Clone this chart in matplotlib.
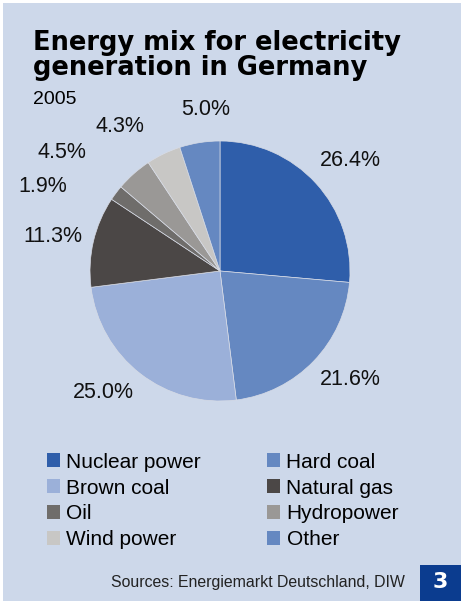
import numpy as np
import matplotlib.pyplot as plt
from matplotlib.patches import Rectangle

sources = ['Nuclear power', 'Hard coal', 'Brown coal', 'Natural gas',
           'Oil', 'Hydropower', 'Wind power', 'Other']
shares = [26.4, 21.6, 25.0, 11.3, 1.9, 4.5, 4.3, 5.0]
colors = ['#2f5eaa', '#6588c1', '#9bb0d9', '#4b4746',
          '#6f6d6b', '#9a9896', '#c8c7c5', '#6588c1']
# label placement: distance (pie radii) and angle nudge (deg) from wedge middle
label_r = [1.315, 1.305, 1.30, 1.31, 1.51, 1.52, 1.355, 1.245]
label_da = [-2, 4, -6, 1.6, 11.5, 11.4, 9, -4]

bg = '#cdd8ea'
W, H = 461, 601
fig = plt.figure(figsize=(W / 100, H / 100), dpi=100)
fig.patch.set_facecolor('white')
fig.patches.append(Rectangle((3 / W, 0), 1, 1 - 3 / H, transform=fig.transFigure,
                             facecolor=bg, edgecolor='none', zorder=-10))

cx, cy, rad = 220, 271, 130
ax = fig.add_axes([(cx - rad) / W, 1 - (cy + rad) / H, 2 * rad / W, 2 * rad / H])
ax.set_facecolor('none')
wedges, _ = ax.pie(shares, colors=colors, startangle=90, counterclock=False,
                   wedgeprops=dict(edgecolor='#d8dce6', linewidth=0.5))
ax.set_xlim(-1, 1)
ax.set_ylim(-1, 1)
ax.set_aspect('equal')
ax.axis('off')

for w, val, r, da in zip(wedges, shares, label_r, label_da):
    ang = np.deg2rad((w.theta1 + w.theta2) / 2 + da)
    ax.text(r * np.cos(ang), r * np.sin(ang), f'{val:.1f}%', ha='center', va='center',
            fontsize=15.5, family='Liberation Sans', color='#111111')

fig.text(33 / W, 1 - 43 / H, 'Energy mix for electricity', fontsize=18.5,
         fontweight='heavy', family='DejaVu Sans', va='center', ha='left')
fig.text(33 / W, 1 - 68 / H, 'generation in Germany', fontsize=18.5,
         fontweight='heavy', family='DejaVu Sans', va='center', ha='left')
fig.text(33 / W, 1 - 100 / H, '2005', fontsize=14, family='Liberation Sans',
         va='center', ha='left')

handles = [Rectangle((0, 0), 1, 1, facecolor=c, edgecolor='none') for c in colors]
order = [0, 2, 4, 6, 1, 3, 5, 7]
fig.legend([handles[i] for i in order], [sources[i] for i in order],
           ncol=2, loc='upper left', bbox_to_anchor=(30 / W, 1 - 436 / H),
           frameon=False, handlelength=0.65, handleheight=0.65, handletextpad=0.3,
           columnspacing=3.15, labelspacing=0.33, borderpad=0.3,
           prop={'family': 'Liberation Sans', 'size': 15})

fig.text(405 / W, 1 - 582 / H, 'Sources: Energiemarkt Deutschland, DIW', fontsize=11.4,
         family='Liberation Sans', ha='right', va='center', color='#222222')
fig.patches.append(Rectangle((420 / W, 0), 41 / W, 36 / H, transform=fig.transFigure,
                             facecolor='#0b3c8f', edgecolor='none'))
fig.text(440 / W, 1 - 582 / H, '3', fontsize=16, fontweight='bold', color='white',
         family='DejaVu Sans', ha='center', va='center')

fig.savefig('out.png', dpi=100, facecolor=fig.get_facecolor())
